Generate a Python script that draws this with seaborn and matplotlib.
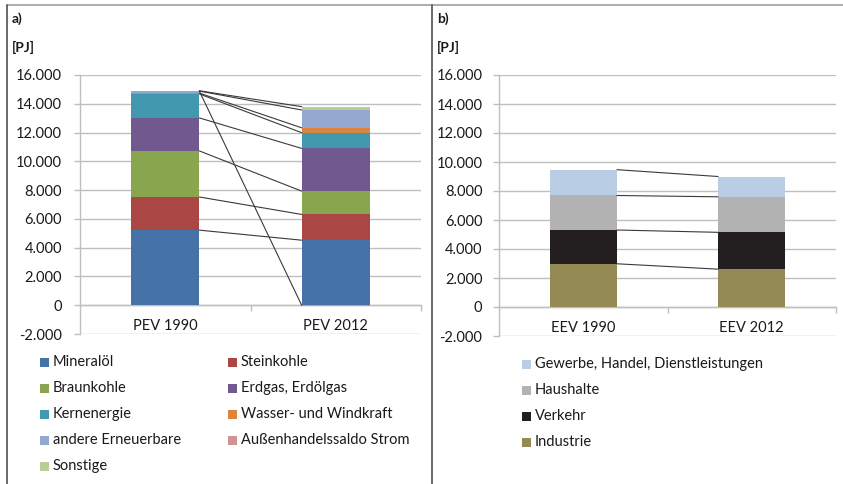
import matplotlib
matplotlib.use("Agg")
import matplotlib.pyplot as plt
import seaborn as sns
from matplotlib.patches import Rectangle
from matplotlib.lines import Line2D
from matplotlib.ticker import FuncFormatter

# ---------------- data ----------------
years_a = ["PEV 1990", "PEV 2012"]
names_a = ["Mineralöl", "Steinkohle", "Braunkohle", "Erdgas, Erdölgas", "Kernenergie",
           "Wasser- und Windkraft", "andere Erneuerbare", "Außenhandelssaldo Strom", "Sonstige"]
mineraloel = [5217, 4520]
steinkohle = [2306, 1790]
braunkohle = [3201, 1620]
erdgas = [2293, 2970]
kernenergie = [1668, 1090]
wasser_wind = [58, 340]
andere_ee = [138, 1240]
aussenhandel = [3, -80]
sonstige = [21, 230]
values_a = [mineraloel, steinkohle, braunkohle, erdgas, kernenergie,
            wasser_wind, andere_ee, aussenhandel, sonstige]
colors_a = ["#4572A7", "#AA4643", "#89A54E", "#71588F", "#4198AF",
            "#DB843D", "#93A9CF", "#D19392", "#B9CD96"]

years_b = ["EEV 1990", "EEV 2012"]
names_b = ["Industrie", "Verkehr", "Haushalte", "Gewerbe, Handel, Dienstleistungen"]
industrie = [2980, 2610]
verkehr = [2330, 2540]
haushalte = [2380, 2450]
ghd = [1780, 1400]
values_b = [industrie, verkehr, haushalte, ghd]
colors_b = ["#948A54", "#231F20", "#B2B2B2", "#B9CDE5"]

yticks = list(range(-2000, 16001, 2000))

# ---------------- style ----------------
sns.set_theme(style="white")
plt.rcParams["font.family"] = ["Lato", "DejaVu Sans"]

W, H = 843, 484
fig = plt.figure(figsize=(W / 100, H / 100), dpi=100)


def fx(x):
    return x / W


def fy(y):
    return 1 - y / H


GRID = "#BFBFBF"
TXT = "#1A1A1A"


def stacked(ax, cats, series, colors, bar_w=0.4):
    pos = [0.0] * len(cats)
    neg = [0.0] * len(cats)
    tops = []
    for vals, col in zip(series, colors):
        t = []
        for i, v in enumerate(vals):
            if v >= 0:
                ax.bar(i, v, bottom=pos[i], width=bar_w, color=col, linewidth=0, zorder=3)
                pos[i] += v
                t.append(pos[i])
            else:
                ax.bar(i, v, bottom=neg[i], width=bar_w, color=col, linewidth=0, zorder=3)
                t.append(neg[i])
                neg[i] += v
        tops.append(t)
    # series lines
    for t in tops:
        ax.plot([bar_w / 2, 1 - bar_w / 2], [t[0], t[1]], color="#3A3A3A", lw=0.8, zorder=4)
    ax.set_xlim(-0.5, len(cats) - 0.5)
    ax.set_ylim(-2000, 16000)
    ax.set_yticks(yticks)
    ax.yaxis.set_major_formatter(FuncFormatter(lambda v, p: f"{int(v):,}".replace(",", ".")))
    ax.yaxis.grid(True, color=GRID, lw=1.0, zorder=0)
    ax.set_xticks([0.5, 1.5])
    ax.set_xticklabels([])
    for s in ["top", "right"]:
        ax.spines[s].set_visible(False)
    ax.spines["left"].set_color(GRID)
    ax.spines["left"].set_linewidth(1.0)
    ax.spines["bottom"].set_position(("data", 0))
    ax.spines["bottom"].set_color(GRID)
    ax.spines["bottom"].set_linewidth(1.0)
    ax.tick_params(axis="y", left=True, length=4, width=1, color=GRID, labelsize=10.5,
                   labelcolor=TXT)
    ax.tick_params(axis="x", bottom=True, length=4, width=1, color=GRID, direction="out")
    for i, c in enumerate(cats):
        ax.text(i, -1450, c, ha="center", va="center", fontsize=10.5, color=TXT)


# panel a
ax1 = fig.add_axes([fx(80), fy(334), fx(421) - fx(80), fy(75) - fy(334)])
stacked(ax1, years_a, values_a, colors_a)
ax1.tick_params(axis="y", pad=9)

# panel b
ax2 = fig.add_axes([fx(499), fy(336), fx(836) - fx(499), fy(75) - fy(336)])
stacked(ax2, years_b, values_b, colors_b)
ax2.tick_params(axis="y", pad=8)

# panel labels
for x0, lab in [(12, "a)"), (437, "b)")]:
    fig.text(fx(x0), fy(19), lab, fontsize=10, fontweight="bold", color=TXT, va="center")
    fig.text(fx(x0), fy(47), "[PJ]", fontsize=10, fontweight="bold", color=TXT, va="center")

# frame lines
FR = "#7F7F7F"
fig.add_artist(Line2D([fx(7), 1], [fy(5), fy(5)], color="#A0A0A0", lw=1.2))
fig.add_artist(Line2D([fx(7), fx(7)], [fy(5), 0], color="#505050", lw=1.2))
fig.add_artist(Line2D([fx(432), fx(432)], [fy(5), 0], color="#505050", lw=1.2))


# legends (Excel-style, row-wise order)
def legend_item(x, y, label, color):
    s = 9
    fig.add_artist(Rectangle((fx(x), fy(y + s / 2)), s / W, s / H, color=color, lw=0,
                             transform=fig.transFigure))
    fig.text(fx(x + 13), fy(y), label, fontsize=10.5, color=TXT, va="center", ha="left")


order_a = [0, 1, 2, 3, 4, 5, 6, 7, 8]
for k, idx in enumerate(order_a):
    col = k % 2
    row = k // 2
    legend_item(40 + col * 188, 362 + row * 26, names_a[idx], colors_a[idx])

for k, idx in enumerate([3, 2, 1, 0]):
    legend_item(522, 364 + k * 26, names_b[idx], colors_b[idx])

fig.savefig("out.png", dpi=100, facecolor="white")
